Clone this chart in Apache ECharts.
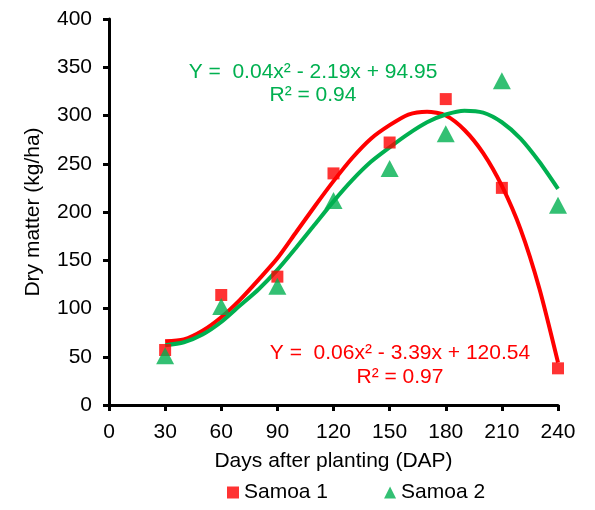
<!DOCTYPE html>
<html>
<head>
<meta charset="utf-8">
<script src="https://cdn.jsdelivr.net/npm/echarts@6/dist/echarts.min.js"></script>
<style>
html,body{margin:0;padding:0;background:#fff;}
#c{width:595px;height:510px;}
</style>
</head>
<body>
<div id="c"></div>
<script>
// Observed data
const days = [30, 60, 90, 120, 150, 180, 210, 240];
const samoa1 = [57, 114, 133, 240, 272, 317, 225, 38];
const samoa2 = [51, 102, 123, 212, 245, 281, 336, 207];

// Trend curves
const trendDays = [30, 40, 50, 60, 70, 80, 90, 100, 110, 120, 130, 140, 150, 160, 170, 180, 190, 200, 210, 220, 230, 240];
const trend1 = [66, 68, 77, 91, 109, 130, 152, 179, 206, 232, 256, 276, 290, 301, 304, 300, 285, 261, 227, 182, 121, 44];
const trend2 = [62, 65, 73, 86, 103, 120, 140, 163, 187, 211, 233, 252, 267, 281, 293, 301, 305, 303, 293, 276, 252, 224];

// Axis ticks
const xTicks = [0, 30, 60, 90, 120, 150, 180, 210, 240];
const yTicks = [0, 50, 100, 150, 200, 250, 300, 350, 400];

// Labels
const eq2 = ['Y =  0.04x\u00B2 - 2.19x + 94.95', 'R\u00B2 = 0.94'];
const eq1 = ['Y =  0.06x\u00B2 - 3.39x + 120.54', 'R\u00B2 = 0.97'];

const RED = '#FF0000';
const GREEN = '#00B050';
const FONT = "'Liberation Sans', Arial, sans-serif";
const FS = 21;

const pair = (xs, ys) => xs.map((x, i) => [x, ys[i]]);
const txt = (t, x, y, c) => ({type: 'text', z: 100,
  style: {text: t, x: x, y: y, fill: c, font: FS + 'px ' + FONT, textAlign: 'center', textVerticalAlign: 'middle'}});

const chart = echarts.init(document.getElementById('c'), null, {renderer: 'canvas'});
chart.setOption({
  animation: false,
  backgroundColor: '#fff',
  textStyle: {fontFamily: FONT},
  grid: {left: 109, right: 37, top: 19, bottom: 105},
  xAxis: {
    type: 'value',
    min: xTicks[0], max: xTicks[xTicks.length - 1], interval: 30,
    name: 'Days after planting (DAP)',
    nameLocation: 'middle', nameGap: 46,
    nameTextStyle: {fontSize: FS, color: '#000', fontFamily: FONT},
    axisLine: {lineStyle: {color: '#000', width: 3}},
    axisTick: {show: true, length: 6, lineStyle: {color: '#000', width: 3}},
    axisLabel: {fontSize: FS, color: '#000', margin: 17, fontFamily: FONT},
    splitLine: {show: false}
  },
  yAxis: {
    type: 'value',
    min: yTicks[0], max: yTicks[yTicks.length - 1], interval: 50,
    name: 'Dry matter (kg/ha)',
    nameLocation: 'middle', nameGap: 65, nameRotate: 90,
    nameTextStyle: {fontSize: FS, color: '#000', fontFamily: FONT},
    axisLine: {show: true, lineStyle: {color: '#000', width: 3}},
    axisTick: {show: true, length: 6, lineStyle: {color: '#000', width: 3}},
    axisLabel: {fontSize: FS, color: '#000', margin: 17, fontFamily: FONT},
    splitLine: {show: false}
  },
  legend: {
    left: 222, top: 477,
    itemWidth: 12, itemHeight: 12, itemGap: 56,
    textStyle: {fontSize: FS, color: '#000', fontFamily: FONT},
    data: [
      {name: 'Samoa 1', icon: 'rect'},
      {name: 'Samoa 2', icon: 'triangle'}
    ]
  },
  graphic: [
    txt(eq2[0], 313, 72, GREEN),
    txt(eq2[1], 313, 95, GREEN),
    txt(eq1[0], 400, 353, RED),
    txt(eq1[1], 400, 377, RED)
  ],
  series: [
    {name: 'trend1', type: 'line', data: pair(trendDays, trend1), smooth: 0.25,
     showSymbol: false, lineStyle: {color: RED, width: 4}, z: 2, silent: true},
    {name: 'trend2', type: 'line', data: pair(trendDays, trend2), smooth: 0.25,
     showSymbol: false, lineStyle: {color: GREEN, width: 4}, z: 2, silent: true},
    {name: 'Samoa 1', type: 'scatter', data: pair(days, samoa1), symbol: 'rect',
     symbolSize: 12, itemStyle: {color: RED}, z: 5},
    {name: 'Samoa 2', type: 'scatter', data: pair(days, samoa2), symbol: 'triangle',
     symbolSize: [18, 17], itemStyle: {color: GREEN}, z: 5}
  ]
});
</script>
</body>
</html>
